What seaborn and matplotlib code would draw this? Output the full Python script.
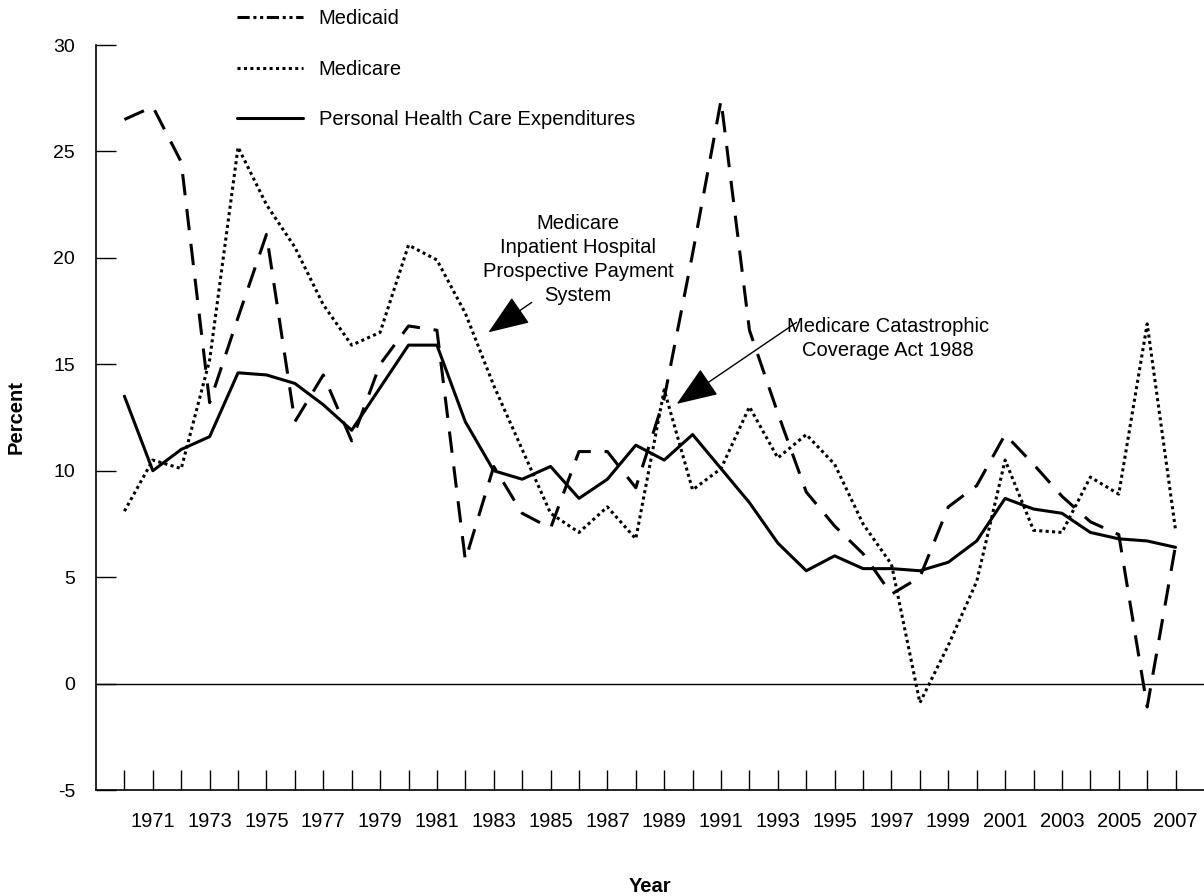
import matplotlib
matplotlib.use("Agg")
import matplotlib.pyplot as plt
from matplotlib.lines import Line2D
import seaborn as sns
import pandas as pd

# ---------------- data ----------------
years = [1970, 1971, 1972, 1973, 1974, 1975, 1976, 1977, 1978, 1979,
         1980, 1981, 1982, 1983, 1984, 1985, 1986, 1987, 1988, 1989,
         1990, 1991, 1992, 1993, 1994, 1995, 1996, 1997, 1998, 1999,
         2000, 2001, 2002, 2003, 2004, 2005, 2006, 2007]

medicaid = [26.5, 27.1, 24.5, 13.2, 17.2, 21.1, 12.3, 14.5, 11.4, 15.0,
            16.8, 16.6, 5.8, 10.2, 8.0, 7.3, 10.9, 10.9, 9.2, 13.4,
            20.2, 27.4, 16.6, 12.7, 9.0, 7.4, 6.1, 4.2, 5.0, 8.3,
            9.3, 11.7, 10.3, 8.8, 7.6, 7.0, -1.1, 6.5]

medicare = [8.1, 10.5, 10.1, 15.2, 25.2, 22.5, 20.5, 17.8, 15.9, 16.5,
            20.6, 19.9, 17.4, 14.0, 11.0, 8.0, 7.1, 8.3, 6.8, 13.8,
            9.1, 10.1, 13.0, 10.6, 11.7, 10.3, 7.5, 5.6, -0.9, 1.8,
            4.8, 10.5, 7.2, 7.1, 9.7, 8.9, 16.9, 7.2]

phce = [13.5, 10.0, 11.0, 11.6, 14.6, 14.5, 14.1, 13.1, 11.9, 13.9,
        15.9, 15.9, 12.3, 10.0, 9.6, 10.2, 8.7, 9.6, 11.2, 10.5,
        11.7, 10.1, 8.5, 6.6, 5.3, 6.0, 5.4, 5.4, 5.3, 5.7,
        6.7, 8.7, 8.2, 8.0, 7.1, 6.8, 6.7, 6.4]

series_names = ["Medicaid", "Medicare", "Personal Health Care Expenditures"]
tick_labels = ["1971", "1973", "1975", "1977", "1979", "1981", "1983", "1985",
               "1987", "1989", "1991", "1993", "1995", "1997", "1999", "2001",
               "2003", "2005", "2007"]
y_ticks = [-5, 0, 5, 10, 15, 20, 25, 30]

# ---------------- style ----------------
sns.set_style("white")
plt.rcParams["font.family"] = ["Liberation Sans", "DejaVu Sans"]
plt.rcParams["text.color"] = "black"
plt.rcParams["axes.labelcolor"] = "black"
plt.rcParams["xtick.color"] = "black"
plt.rcParams["ytick.color"] = "black"

df = pd.concat([
    pd.DataFrame({"Year": years, "Percent": medicaid, "Series": series_names[0]}),
    pd.DataFrame({"Year": years, "Percent": medicare, "Series": series_names[1]}),
    pd.DataFrame({"Year": years, "Percent": phce, "Series": series_names[2]}),
], ignore_index=True)

LW = 2.2
dash_styles = {
    series_names[0]: (7, 4.5),
    series_names[1]: (1, 1.1),
    series_names[2]: "",
}

fig = plt.figure(figsize=(12.04, 8.96), dpi=100)
ax = fig.add_axes([96 / 1204, 106 / 896, 1 - 96 / 1204, (851 - 106) / 896])

sns.lineplot(data=df, x="Year", y="Percent", style="Series",
             style_order=series_names, dashes=dash_styles, color="black",
             linewidth=LW, legend=False, estimator=None, errorbar=None,
             sort=False, ax=ax)

ax.axhline(0, color="black", lw=1.0, zorder=1)

ax.set_xlim(1969, 2008)
ax.set_ylim(-5, 30)

# ticks
ax.set_xticks(years)
label_map = {int(t): t for t in tick_labels}
ax.set_xticklabels([label_map.get(y, "") for y in years])
ax.set_yticks(y_ticks)
ax.set_yticklabels([str(v) for v in y_ticks])
ax.tick_params(axis="x", direction="in", length=14.4, width=1.0, pad=16,
               labelsize=14.5, colors="black", bottom=True)
ax.tick_params(axis="y", direction="in", length=14.4, width=1.0, pad=15,
               labelsize=14, colors="black", left=True)

for s in ["top", "right"]:
    ax.spines[s].set_visible(False)
for s in ["left", "bottom"]:
    ax.spines[s].set_color("black")
    ax.spines[s].set_linewidth(1.2)

ax.set_xlabel("Year", fontsize=14.5, fontweight="bold", labelpad=33,
              color="black")
ax.set_ylabel("Percent", fontsize=14.5, fontweight="bold", labelpad=20,
              color="black")

# annotations
ax.annotate("", xy=(1982.81, 16.5), xytext=(1984.34, 17.91),
            arrowprops=dict(arrowstyle="-|>,head_length=1.3,head_width=0.5",
                            mutation_scale=20, lw=1.0, color="black",
                            shrinkA=0, shrinkB=0))
ax.text(1985.97, 19.92,
        "Medicare\nInpatient Hospital\nProspective Payment\nSystem",
        ha="center", va="center", multialignment="center",
        linespacing=1.35, fontsize=14.5, color="black")

ax.annotate("", xy=(1989.44, 13.14), xytext=(1993.66, 16.97),
            arrowprops=dict(arrowstyle="-|>,head_length=1.3,head_width=0.5",
                            mutation_scale=20, lw=1.0, color="black",
                            shrinkA=0, shrinkB=0))
ax.text(1996.87, 16.2, "Medicare Catastrophic\nCoverage Act 1988",
        ha="center", va="center", multialignment="center",
        linespacing=1.3, fontsize=14.5, color="black")

# legend
handles = [
    Line2D([], [], color="black", lw=LW, dashes=(4, 1.2, 1, 1.2, 1, 1.2)),
    Line2D([], [], color="black", lw=LW, dashes=(1, 1.1)),
    Line2D([], [], color="black", lw=LW),
]
leg = fig.legend(handles, series_names, loc="upper left",
                 bbox_to_anchor=(237 / 1204, 1 - 9.5 / 896),
                 bbox_transform=fig.transFigure, frameon=False,
                 handlelength=3.3, handletextpad=0.75, labelspacing=1.55,
                 borderpad=0, borderaxespad=0, fontsize=14.5)
for t in leg.get_texts():
    t.set_color("black")

fig.savefig("out.png", dpi=100)
